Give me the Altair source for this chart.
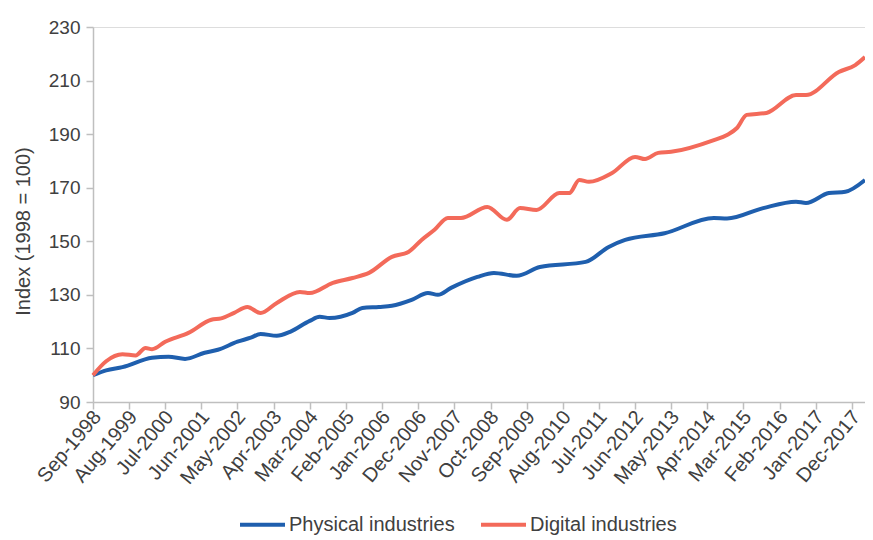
import altair as alt
import pandas as pd

# ---- data (index, 1998 = 100) ----
PHYS_DATES = ["1998-09", "1999-01", "1999-06", "2000-03", "2000-08", "2001-01",
              "2001-07", "2001-11", "2002-05", "2002-09", "2002-12", "2003-05",
              "2003-09", "2004-03", "2004-06", "2004-09", "2005-04", "2005-07",
              "2005-12", "2006-04", "2006-10", "2007-03", "2007-06", "2007-10",
              "2008-06", "2008-11", "2009-06", "2010-01", "2011-03", "2011-10",
              "2012-03", "2013-03", "2014-06", "2014-10", "2015-09", "2016-07",
              "2016-10", "2017-05", "2017-10", "2018-04"]
PHYS_VALUES = [100.0, 101.8, 103.0, 106.5, 106.9, 106.1,
               108.4, 109.5, 112.5, 114.0, 115.4, 114.7,
               116.2, 120.3, 121.8, 121.4, 123.3, 125.1,
               125.5, 125.9, 128.1, 130.7, 130.0, 132.6,
               136.7, 138.2, 137.1, 140.4, 142.3, 147.9,
               150.5, 153.0, 158.7, 158.5, 162.4, 164.8,
               164.3, 168.0, 168.5, 172.9]

DIG_DATES = ["1998-09", "1999-01", "1999-06", "1999-10", "2000-01", "2000-03",
             "2000-07", "2001-02", "2001-09", "2001-12", "2002-04", "2002-08",
             "2002-12", "2003-05", "2003-12", "2004-03", "2004-10", "2005-04",
             "2005-09", "2006-04", "2006-09", "2007-01", "2007-05", "2007-09",
             "2008-01", "2008-09", "2009-03", "2009-07", "2009-12", "2010-07",
             "2010-10", "2011-01", "2011-04", "2011-11", "2012-06", "2012-09",
             "2013-01", "2013-05", "2014-06", "2014-10", "2015-01", "2015-04",
             "2015-10", "2016-07", "2016-10", "2017-08", "2018-01", "2018-04"]
DIG_VALUES = [100.0, 105.2, 107.8, 107.4, 110.2, 109.7,
              112.5, 115.8, 120.7, 121.2, 123.3, 125.5,
              123.2, 127.0, 131.1, 130.7, 134.5, 136.3,
              138.2, 144.2, 146.0, 150.5, 154.3, 158.7,
              158.7, 162.8, 158.0, 162.4, 161.7, 168.0,
              168.0, 172.9, 172.2, 175.5, 181.5, 180.7,
              183.0, 183.4, 187.8, 189.7, 192.3, 197.2,
              197.9, 204.6, 204.6, 213.2, 215.8, 218.8]

SERIES = ["Physical industries", "Digital industries"]
COLORS = ["#1F5FAE", "#F36A5A"]

TICK_MONTHS = ["1998-09", "1999-08", "2000-07", "2001-06", "2002-05", "2003-04",
               "2004-03", "2005-02", "2006-01", "2006-12", "2007-11", "2008-10",
               "2009-09", "2010-08", "2011-07", "2012-06", "2013-05", "2014-04",
               "2015-03", "2016-02", "2017-01", "2017-12"]
Y_TICKS = [90, 110, 130, 150, 170, 190, 210, 230]

rows = []
for d, v in zip(PHYS_DATES, PHYS_VALUES):
    rows.append({"date": d + "-01", "value": v, "series": SERIES[0]})
for d, v in zip(DIG_DATES, DIG_VALUES):
    rows.append({"date": d + "-01", "value": v, "series": SERIES[1]})
df = pd.DataFrame(rows)


def dt(s):
    y, m = s.split("-")
    return alt.DateTime(year=int(y), month=int(m), date=1, utc=True)


FONT = "Liberation Sans"
TXT = "#404040"
GRID = "#BFBFBF"

chart = alt.Chart(df).mark_line(strokeWidth=4, interpolate="monotone").encode(
    x=alt.X("date:T",
            scale=alt.Scale(type="utc", domain=[dt("1998-09"), dt("2018-04")], nice=False),
            axis=alt.Axis(values=[dt(t) for t in TICK_MONTHS],
                          labelExpr="utcFormat(datum.value, '%b-%Y')",
                          labelAngle=-50, labelAlign="right", labelBaseline="middle",
                          labelFont=FONT, labelFontSize=20, labelColor=TXT,
                          labelPadding=4, labelOffset=4, labelOverlap=False,
                          labelFlush=False,
                          tickSize=7, tickColor=GRID, tickWidth=1.5,
                          domainColor=GRID, domainWidth=1.5,
                          grid=False, title=None)),
    y=alt.Y("value:Q",
            scale=alt.Scale(domain=[90, 230], nice=False, zero=False),
            axis=alt.Axis(values=Y_TICKS, labelFont=FONT, labelFontSize=19,
                          labelColor=TXT, labelPadding=6,
                          tickSize=7, tickColor=GRID, tickWidth=1.5,
                          domainColor=GRID, domainWidth=1.5, grid=False,
                          title="Index (1998 = 100)", titleFont=FONT,
                          titleFontSize=20, titleFontWeight="normal",
                          titleColor=TXT, titleX=-70, titleY=204,
                          titleAlign="center", titleBaseline="middle")),
    color=alt.Color("series:N",
                    scale=alt.Scale(domain=SERIES, range=COLORS),
                    legend=alt.Legend(title=None, orient="none", direction="horizontal",
                                      legendX=145, legendY=473,
                                      symbolType="stroke", symbolSize=2025,
                                      symbolStrokeWidth=4, labelFont=FONT,
                                      labelFontSize=20, labelColor=TXT,
                                      labelLimit=0,
                                      labelOffset=2, columnPadding=18)),
    order=alt.Order("series:N", sort="descending"),
).properties(
    width=772, height=375,
    autosize=alt.AutoSizeParams(type="none"),
    padding={"left": 85, "top": 19, "right": 0, "bottom": 134},
).configure_view(stroke=None).configure(background="white")

chart.save("out.html", embed_options={"renderer": "svg", "actions": False})
